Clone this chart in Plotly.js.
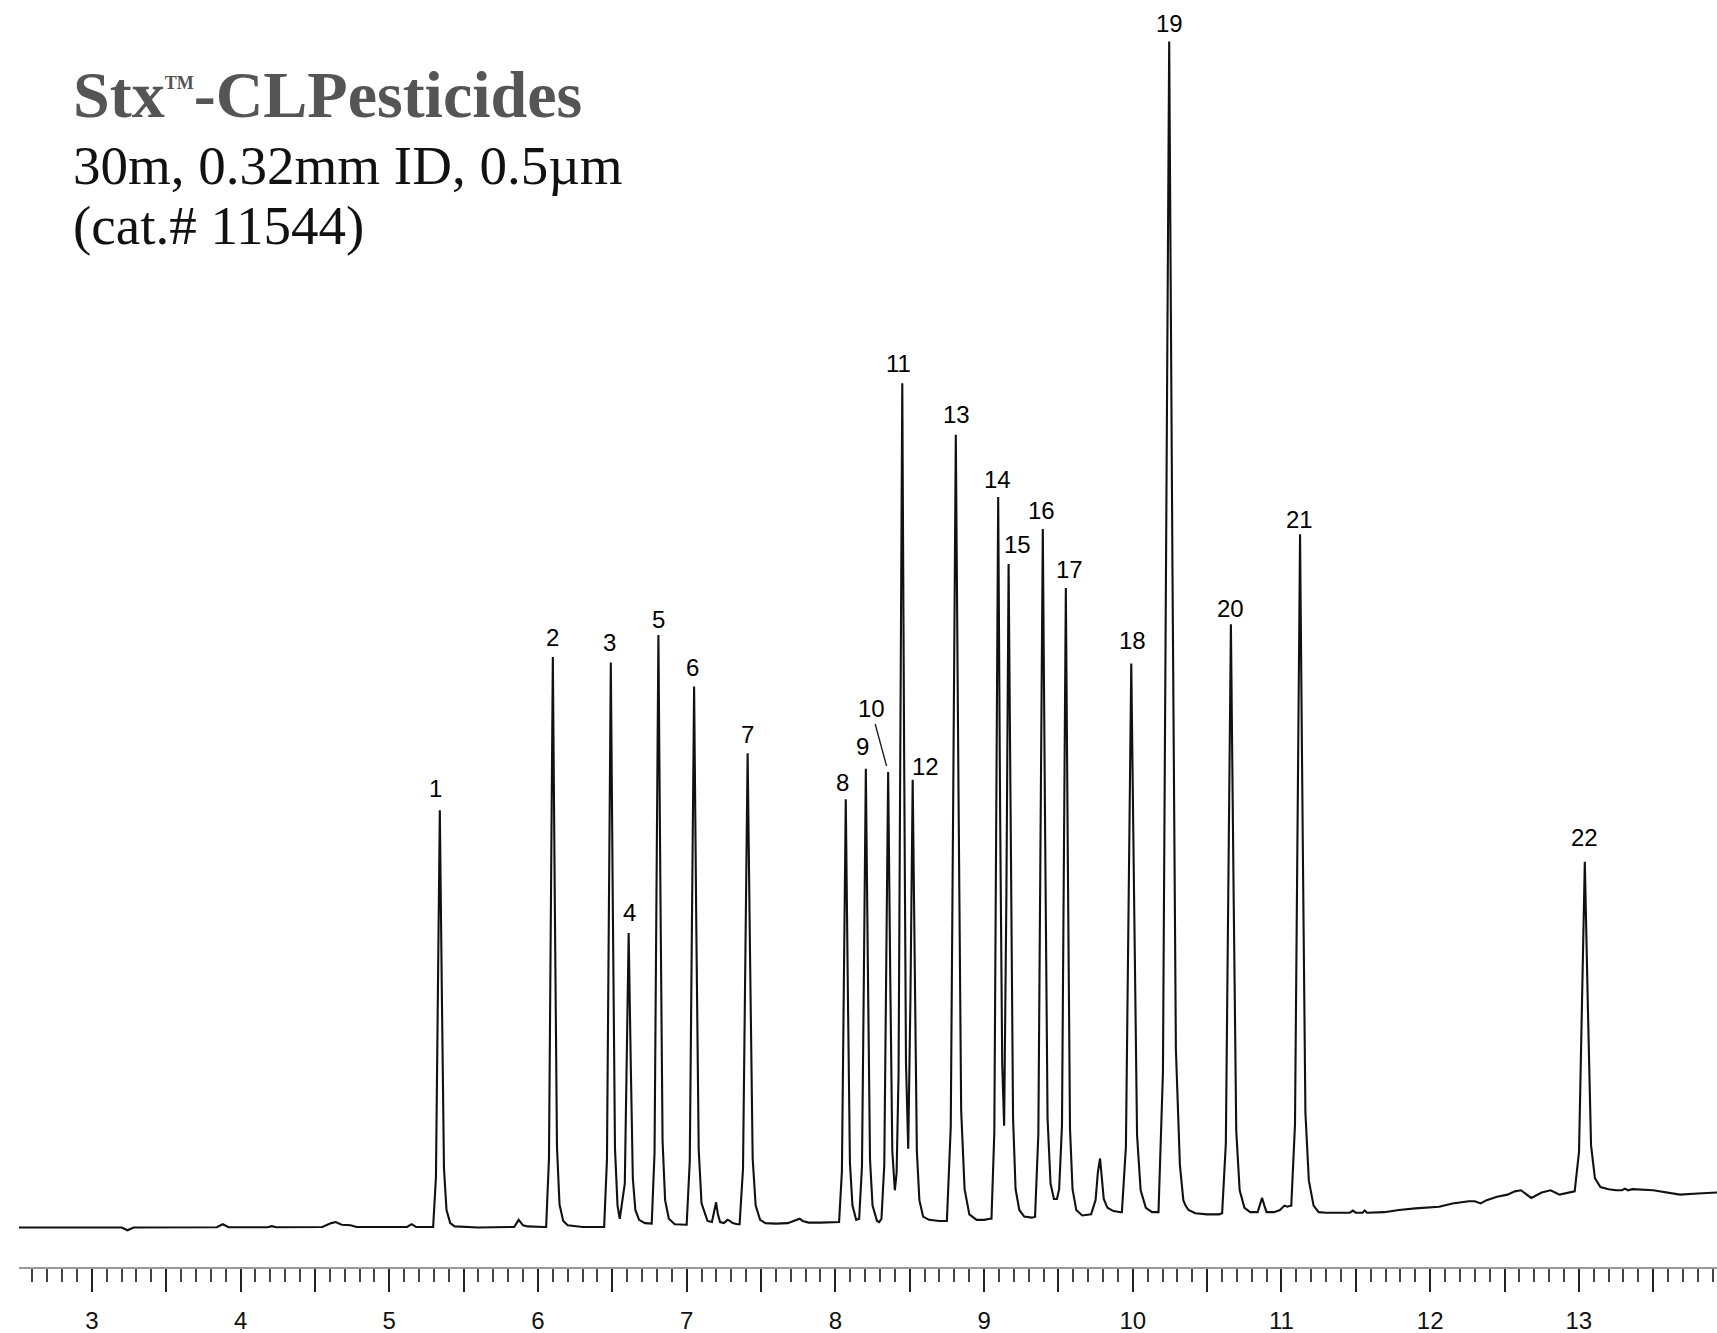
<!DOCTYPE html>
<html><head><meta charset="utf-8">
<script src="https://cdn.plot.ly/plotly-3.0.1.min.js"></script>
<style>html,body{margin:0;padding:0;background:#fff}#chart{width:1717px;height:1333px}</style>
</head><body><div id="chart"></div><script>
// Retention time (min) and detector signal
const retentionTime = [
2.51,2.9,3.2,3.24,3.28,3.84,3.88,3.92,4.18,4.21,4.24,4.55,4.61,4.64,4.68,4.74,4.78,5.12,5.15,5.18,5.29,
5.295,5.314,5.327,5.34,5.354,5.368,5.385,5.41,5.44,5.6,5.84,5.87,5.9,5.93,6.04,
6.055,6.074,6.087,6.10,6.114,6.128,6.145,6.17,6.2,6.3,6.44,
6.445,6.464,6.477,6.49,6.504,6.518,6.535,6.55,
6.584,6.597,6.61,6.624,6.638,6.655,6.68,6.72,6.75,
6.765,6.784,6.797,6.81,6.824,6.838,6.855,6.88,6.92,6.98,
7.0,7.021,7.036,7.05,7.065,7.081,7.10,7.14,7.17,7.185,7.198,7.21,7.225,7.25,7.275,7.29,7.31,7.34,
7.356,7.379,7.394,7.41,7.427,7.444,7.464,7.494,7.53,7.6,7.68,7.74,7.76,7.78,7.82,7.9,7.98,8.02,
8.025,8.044,8.057,8.07,8.084,8.098,8.115,8.14,
8.16,8.179,8.192,8.205,8.219,8.233,8.25,8.28,8.295,
8.31,8.329,8.342,8.355,8.369,8.383,8.4,
8.412,8.425,8.437,8.45,8.463,8.475,8.49,
8.505,8.52,8.534,8.548,8.565,8.59,8.63,8.7,8.75,
8.751,8.776,8.793,8.81,8.828,8.846,8.869,8.901,8.95,9.0,9.04,
9.05,9.069,9.082,9.095,9.108,9.122,9.135,
9.15,9.165,9.18,9.195,9.212,9.237,9.27,9.32,9.35,
9.343,9.365,9.38,9.395,9.411,9.427,9.447,9.47,9.49,
9.505,9.524,9.537,9.55,9.564,9.578,9.595,9.62,9.66,9.72,9.75,9.765,9.78,9.792,9.805,9.83,9.87,9.92,
9.927,9.954,9.972,9.99,10.01,10.029,10.053,10.088,10.13,10.17,
10.173,10.203,10.224,10.245,10.267,10.29,10.317,10.34,10.355,10.375,10.42,10.5,10.58,10.6,
10.601,10.626,10.643,10.66,10.678,10.696,10.719,10.751,10.79,10.84,10.858,10.87,10.885,10.9,10.95,10.99,11.02,11.04,11.065,
11.066,11.091,11.108,11.125,11.143,11.161,11.184,11.216,11.25,11.3,11.46,11.48,11.5,11.545,11.56,11.575,11.69,11.79,11.9,12.06,12.15,12.26,12.3,12.34,12.38,12.45,12.52,12.57,12.61,12.68,12.75,12.81,12.87,12.94,12.97,
12.972,13.001,13.02,13.04,13.061,13.082,13.108,13.145,13.2,13.25,13.29,13.31,13.33,13.36,13.5,13.6,13.68,13.8,13.94
];
const signal = [
0,0,0,-0.25,0,0.02,0.3,0.02,0.02,0.12,0.02,0.05,0.4,0.5,0.25,0.2,0.05,0.05,0.3,0.05,0.05,
0.05,4.6,21.0,38.1,21.0,5.4,1.6,0.4,0.1,0.0,0.05,0.7,0.2,0.1,0.05,
0.05,6.3,28.7,52.1,28.7,7.3,2.1,0.6,0.2,0.05,0.05,
0.05,6.2,28.4,51.6,28.4,7.2,2.0,0.8,
4.0,15.2,26.9,15.0,4.5,1.6,0.7,0.4,0.35,
0.35,6.8,29.9,54.1,29.9,7.9,2.5,0.8,0.3,0.25,
0.25,6.1,27.3,49.4,27.3,7.1,2.2,0.6,0.5,1.5,2.3,1.2,0.5,0.4,0.7,0.6,0.4,0.3,
0.3,5.4,24.0,43.3,24.0,6.3,2.0,0.7,0.4,0.35,0.4,0.7,0.8,0.6,0.45,0.45,0.5,0.5,
0.5,5.1,21.7,39.1,21.7,5.9,2.0,0.7,
0.8,5.6,23.3,41.9,23.3,6.2,2.0,0.6,0.5,
0.8,5.7,23.3,41.6,23.0,7.0,3.4,
5.0,14.0,42.5,77.1,42.0,15.0,7.2,
21.0,40.9,22.0,7.0,2.5,1.0,0.7,0.6,0.6,
0.6,9.2,40.1,72.4,40.1,10.7,3.5,1.2,0.7,0.7,0.8,
0.8,8.7,37.0,66.7,38.0,15.0,9.3,
30.0,60.6,33.5,10.0,3.5,1.6,1.0,0.9,1.0,
1.0,8.5,35.5,63.8,35.5,10.0,4.0,2.6,2.6,
3.5,9.3,33.3,58.4,32.5,9.0,3.5,1.6,1.1,1.2,2.5,5.0,6.3,4.5,2.6,1.8,1.5,1.4,
1.4,7.4,29.0,51.5,29.0,8.4,3.4,1.8,1.4,1.4,
1.4,14.2,60.2,108.3,60.2,16.3,5.7,2.5,2.0,1.6,1.3,1.2,1.2,1.3,
1.3,7.7,30.9,55.1,30.9,8.8,3.4,1.8,1.4,1.4,2.2,2.7,2.0,1.4,1.4,1.6,2.0,1.9,2.0,
2.0,9.4,35.7,63.3,35.7,10.5,4.3,2.0,1.4,1.35,1.35,1.55,1.35,1.35,1.55,1.35,1.4,1.6,1.75,1.9,2.2,2.4,2.4,2.2,2.5,2.8,3.0,3.3,3.4,2.7,3.2,3.4,3.0,3.2,3.3,
3.3,6.9,19.9,33.4,19.9,7.5,4.5,3.7,3.5,3.4,3.4,3.55,3.4,3.5,3.4,3.2,3.0,3.1,3.2
];
// Peak identification labels
const peakNumbers = ['1','2','3','4','5','6','7','8','9','10','11','12','13','14','15','16','17','18','19','20','21','22'];
const peakTimes   = [5.34,6.10,6.49,6.61,6.81,7.05,7.41,8.07,8.205,8.355,8.45,8.52,8.81,9.095,9.165,9.395,9.55,9.99,10.245,10.66,11.125,13.04];
const peakHeights = [38.1,52.1,51.6,26.9,54.1,49.4,43.3,39.1,41.9,41.6,77.1,40.9,72.4,66.7,60.6,63.8,58.4,51.5,108.3,55.1,63.3,33.4];
// Time axis ticks
const tickValues = [3,3.5,4,4.5,5,5.5,6,6.5,7,7.5,8,8.5,9,9.5,10,10.5,11,11.5,12,12.5,13,13.5];
const tickLabels = ['3','','4','','5','','6','','7','','8','','9','','10','','11','','12','','13',''];
// Title lines
const titleMain = ['Stx', 'TM', '-CLPesticides'];
const subtitleLines = ['30m, 0.32mm ID, 0.5\u00b5m', '(cat.# 11544)'];

// label offsets (pixels), styling only
const labelShift = {
 '1':[-4,22],'2':[0,20],'3':[-1,20],'4':[1,20],'5':[0,16],'6':[-2,19],'7':[0,19],'8':[-3,17],
 '9':[-3,22],'11':[-4,20],'12':[13,13],'13':[1,20],'14':[-1,18],'15':[9,19],'16':[-1,18],
 '17':[4,19],'18':[1,23],'19':[0,18],'20':[0,16],'21':[-1,15],'22':[0,24]
};

const labelFont = {family:'Liberation Sans, Arial, sans-serif', size:24, color:'#000'};
const annotations = peakNumbers.map((n,i) => {
  if (n === '10') {
    return {x:peakTimes[i], y:peakHeights[i], xref:'x', yref:'y', text:n, showarrow:true,
      arrowhead:0, arrowwidth:1.4, arrowcolor:'#222', ax:-17, ay:-63, standoff:6,
      font:labelFont, xanchor:'center', yanchor:'middle'};
  }
  const s = labelShift[n];
  return {x:peakTimes[i], y:peakHeights[i], xref:'x', yref:'y', text:n, showarrow:false,
    xshift:s[0], yshift:s[1], xanchor:'center', yanchor:'middle', font:labelFont};
});
const W = 1698, H = 1267, L = 19;
const px = v => (v - L) / W, py = v => (H - v) / H;
annotations.push({xref:'paper', yref:'paper', x:px(71), y:py(94), xanchor:'left', yanchor:'middle',
  text:'<b>'+titleMain[0]+'<sup><span style="font-size:18px">'+titleMain[1]+'</span></sup>'+titleMain[2]+'</b>', showarrow:false,
  font:{family:'Liberation Serif, Times New Roman, serif', size:66, color:'#555555'}});
annotations.push({xref:'paper', yref:'paper', x:px(71), y:py(165), xanchor:'left', yanchor:'middle',
  text:subtitleLines[0], showarrow:false,
  font:{family:'Liberation Serif, Times New Roman, serif', size:55, color:'#111'}});
annotations.push({xref:'paper', yref:'paper', x:px(71), y:py(225), xanchor:'left', yanchor:'middle',
  text:subtitleLines[1], showarrow:false,
  font:{family:'Liberation Serif, Times New Roman, serif', size:55, color:'#111'}});

const trace = {x:retentionTime, y:signal, type:'scatter', mode:'lines',
  line:{color:'#111', width:2.1}, hoverinfo:'skip'};

const layout = {
  width:1717, height:1333,
  margin:{l:L, r:0, t:0, b:66, pad:0},
  paper_bgcolor:'#fff', plot_bgcolor:'#fff',
  showlegend:false,
  xaxis:{range:[2.51, 13.929], showgrid:false, zeroline:false, showline:true, linecolor:'#999', linewidth:2,
    tickmode:'array', tickvals:tickValues, ticktext:tickLabels, ticks:'outside', ticklen:23, tickwidth:2, tickcolor:'#222',
    ticklabelstandoff:8,
    tickfont:{family:'Liberation Sans, Arial, sans-serif', size:24, color:'#111'},
    minor:{tickmode:'linear', tick0:0, dtick:0.1, ticks:'outside', ticklen:13, tickwidth:2, tickcolor:'#444', showgrid:false}},
  yaxis:{range:[-3.607, 112.1], visible:false, showgrid:false, zeroline:false},
  annotations:annotations
};
Plotly.newPlot('chart', [trace], layout, {displayModeBar:false, staticPlot:true});
</script></body></html>
